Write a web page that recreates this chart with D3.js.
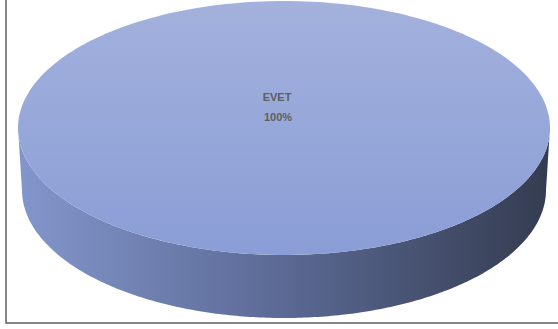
<!DOCTYPE html>
<html>
<head>
<meta charset="utf-8">
<script src="https://cdn.jsdelivr.net/npm/d3@7"></script>
<style>
html,body{margin:0;padding:0;background:#fff;}
svg{display:block;}
</style>
</head>
<body>
<svg id="chart" width="558" height="329"></svg>
<script>
const categories = ["EVET"];
const values = [100];
const percentLabels = ["100%"];

const W = 558, H = 329;
const svg = d3.select("#chart");

const cx = 284, cy = 128, rx = 266, ry = 127;
const depth = 62, rx2 = 262, ry2 = 128;

const defs = svg.append("defs");
const gTop = defs.append("linearGradient").attr("id","gTop").attr("x1",0).attr("y1",0).attr("x2",0).attr("y2",1);
gTop.append("stop").attr("offset","0%").attr("stop-color","#a3b1dc");
gTop.append("stop").attr("offset","100%").attr("stop-color","#8a9dd6");
const gSide = defs.append("linearGradient").attr("id","gSide").attr("x1",0).attr("y1",0).attr("x2",1).attr("y2",0);
gSide.append("stop").attr("offset","0%").attr("stop-color","#8396cc");
gSide.append("stop").attr("offset","50%").attr("stop-color","#5b6994");
gSide.append("stop").attr("offset","100%").attr("stop-color","#343c50");

const pie = d3.pie().sort(null).value(d => d)(values);

function pt(a, ex, ey, ccx, ccy){ return [ccx + ex*Math.cos(a), ccy + ey*Math.sin(a)]; }
const line = d3.line();

pie.forEach((p, i) => {
  const start = p.startAngle, end = p.endAngle;
  const N = 240;
  const angs = d3.range(N+1).map(k => start + (end-start)*k/N);
  const a0 = Math.max(start, 0), a1 = Math.min(end, Math.PI);
  if (a1 > a0) {
    const front = d3.range(N+1).map(k => a0 + (a1-a0)*k/N);
    const topPts = front.map(a => pt(a, rx, ry, cx, cy));
    const botPts = front.slice().reverse().map(a => pt(a, rx2, ry2, cx, cy+depth));
    svg.append("path").attr("d", line(topPts.concat(botPts)) + "Z").attr("fill","url(#gSide)");
  }
  const topFace = angs.map(a => pt(a, rx, ry, cx, cy));
  svg.append("path").attr("d", line(topFace) + "Z").attr("fill","url(#gTop)");

  svg.append("text").attr("x",277).attr("y",101).attr("text-anchor","middle")
    .attr("font-family","Liberation Sans, Arial, sans-serif").attr("font-size",11).attr("font-weight","bold")
    .attr("fill","#5f5f5f").text(categories[i]);
  svg.append("text").attr("x",278).attr("y",120.5).attr("text-anchor","middle")
    .attr("font-family","Liberation Sans, Arial, sans-serif").attr("font-size",11).attr("font-weight","bold")
    .attr("fill","#5f5f5f").text(percentLabels[i]);
});

svg.append("path").attr("d", `M6,0 L6,323 L${W},323`)
  .attr("fill","none").attr("stroke","#5f5f5f").attr("stroke-width",1.5);
</script>
</body>
</html>
